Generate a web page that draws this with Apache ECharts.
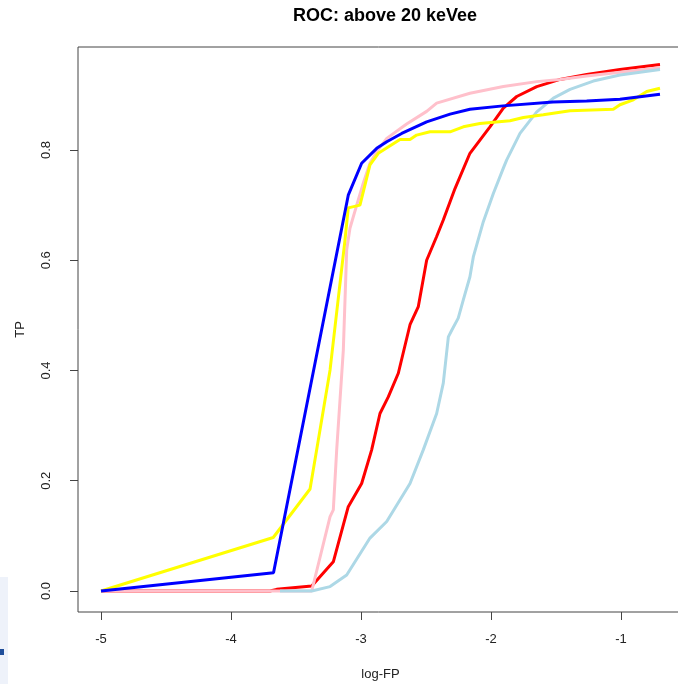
<!DOCTYPE html>
<html>
<head>
<meta charset="utf-8">
<script src="https://cdn.jsdelivr.net/npm/echarts@6/dist/echarts.min.js"></script>
<style>
  html, body { margin: 0; padding: 0; background: #ffffff; }
  #chart { width: 678px; height: 684px; }
</style>
</head>
<body>
<div id="chart"></div>
<script>
// ROC curves: log10 false-positive rate vs. true-positive rate
const titleText = 'ROC: above 20 keVee';
const xName = 'log-FP';
const yName = 'TP';
const xTicks = [-5, -4, -3, -2, -1];
const yTicks = [0, 0.2, 0.4, 0.6, 0.8];

const redCurve = [
  [-5, 0], [-3.70, 0], [-3.649, 0.003], [-3.379, 0.009], [-3.213, 0.053], [-3.098, 0.153],
  [-2.995, 0.195], [-2.918, 0.256], [-2.854, 0.322], [-2.790, 0.352], [-2.713, 0.395],
  [-2.623, 0.483], [-2.559, 0.516], [-2.495, 0.600], [-2.418, 0.643], [-2.367, 0.673],
  [-2.277, 0.730], [-2.162, 0.794], [-2.008, 0.842], [-1.905, 0.876], [-1.802, 0.897],
  [-1.648, 0.915], [-1.469, 0.928], [-1.264, 0.937], [-1.008, 0.946], [-0.700, 0.955]
];

const pinkCurve = [
  [-5, 0], [-3.379, 0], [-3.238, 0.135], [-3.213, 0.147], [-3.187, 0.256], [-3.136, 0.437],
  [-3.110, 0.619], [-3.085, 0.658], [-3.033, 0.700], [-2.982, 0.740], [-2.931, 0.776],
  [-2.879, 0.797], [-2.802, 0.821], [-2.649, 0.847], [-2.495, 0.870], [-2.418, 0.885],
  [-2.162, 0.903], [-1.905, 0.915], [-1.648, 0.924], [-1.469, 0.928], [-1.264, 0.934],
  [-1.008, 0.941], [-0.700, 0.949]
];

const lightblueCurve = [
  [-3.623, 0], [-3.379, 0], [-3.238, 0.008], [-3.110, 0.029], [-2.931, 0.096], [-2.802, 0.126],
  [-2.623, 0.195], [-2.521, 0.256], [-2.418, 0.322], [-2.367, 0.377], [-2.328, 0.461],
  [-2.302, 0.473], [-2.252, 0.495], [-2.213, 0.528], [-2.162, 0.570], [-2.136, 0.606],
  [-2.059, 0.670], [-1.982, 0.721], [-1.905, 0.767], [-1.879, 0.782], [-1.777, 0.830],
  [-1.648, 0.869], [-1.520, 0.894], [-1.392, 0.910], [-1.213, 0.925], [-1.008, 0.936],
  [-0.700, 0.946]
];

const yellowCurve = [
  [-5, 0], [-3.675, 0.097], [-3.392, 0.185], [-3.341, 0.256], [-3.238, 0.401], [-3.123, 0.637],
  [-3.098, 0.695], [-3.008, 0.700], [-2.931, 0.773], [-2.867, 0.794], [-2.700, 0.819],
  [-2.623, 0.819], [-2.572, 0.827], [-2.469, 0.833], [-2.315, 0.833], [-2.213, 0.842],
  [-2.085, 0.848], [-1.854, 0.853], [-1.751, 0.859], [-1.598, 0.864], [-1.392, 0.871],
  [-1.059, 0.874], [-1.008, 0.882], [-0.905, 0.891], [-0.802, 0.906], [-0.700, 0.912]
];

const blueCurve = [
  [-5, 0], [-3.673, 0.033], [-3.098, 0.718], [-2.995, 0.776], [-2.879, 0.803], [-2.802, 0.815],
  [-2.687, 0.830], [-2.495, 0.851], [-2.315, 0.865], [-2.162, 0.874], [-1.908, 0.880],
  [-1.523, 0.887], [-1.264, 0.889], [-1.008, 0.892], [-0.700, 0.901]
];

const curves = [
  { name: 'red', color: '#ff0000', data: redCurve },
  { name: 'pink', color: '#ffc0cb', data: pinkCurve },
  { name: 'lightblue', color: '#add8e6', data: lightblueCurve },
  { name: 'yellow', color: '#ffff00', data: yellowCurve },
  { name: 'blue', color: '#0000ff', data: blueCurve }
];

const font = '"Liberation Sans", Arial, sans-serif';
const chart = echarts.init(document.getElementById('chart'), null, { renderer: 'canvas' });

chart.setOption({
  backgroundColor: '#ffffff',
  animation: false,
  title: {
    text: titleText,
    left: 380,
    textAlign: 'center',
    top: 2,
    textStyle: { fontFamily: font, fontSize: 18, fontWeight: 'bold', color: '#000' }
  },
  grid: {
    left: 78, top: 47, width: 605, height: 565,
    outerBoundsMode: 'none',
    containLabel: false,
    show: true, borderColor: '#444', borderWidth: 1, backgroundColor: 'transparent'
  },
  xAxis: {
    type: 'value',
    min: -5.177, max: -0.523,
    name: xName,
    nameLocation: 'middle',
    nameGap: 56,
    nameTextStyle: { fontFamily: font, fontSize: 13, color: '#222' },
    axisLine: { show: false, onZero: false },
    splitLine: { show: false },
    axisTick: { show: true, length: 8, customValues: xTicks, lineStyle: { color: '#444', width: 1 } },
    axisLabel: { customValues: xTicks, margin: 21, fontFamily: font, fontSize: 13, color: '#222' }
  },
  yAxis: {
    type: 'value',
    min: -0.0381, max: 0.9868,
    name: yName,
    nameLocation: 'middle',
    nameGap: 51,
    nameRotate: 90,
    nameTextStyle: { fontFamily: font, fontSize: 13, color: '#222' },
    axisLine: { show: false, onZero: false },
    splitLine: { show: false },
    axisTick: { show: true, length: 8, customValues: yTicks, lineStyle: { color: '#444', width: 1 } },
    axisLabel: {
      customValues: yTicks, rotate: 90, margin: 25,
      fontFamily: font, fontSize: 13, color: '#222',
      formatter: v => v.toFixed(1)
    }
  },
  graphic: [
    { type: 'rect', left: 0, top: 577, shape: { width: 8, height: 107 }, style: { fill: '#eef2fa' }, silent: true },
    { type: 'rect', left: 0, top: 649, shape: { width: 4, height: 6 }, style: { fill: '#1f4e9a' }, silent: true }
  ],
  series: curves.map(c => ({
    name: c.name,
    type: 'line',
    data: c.data,
    showSymbol: false,
    symbol: 'none',
    lineStyle: { color: c.color, width: 3 },
    itemStyle: { color: c.color },
    emphasis: { disabled: true }
  }))
});
</script>
</body>
</html>
